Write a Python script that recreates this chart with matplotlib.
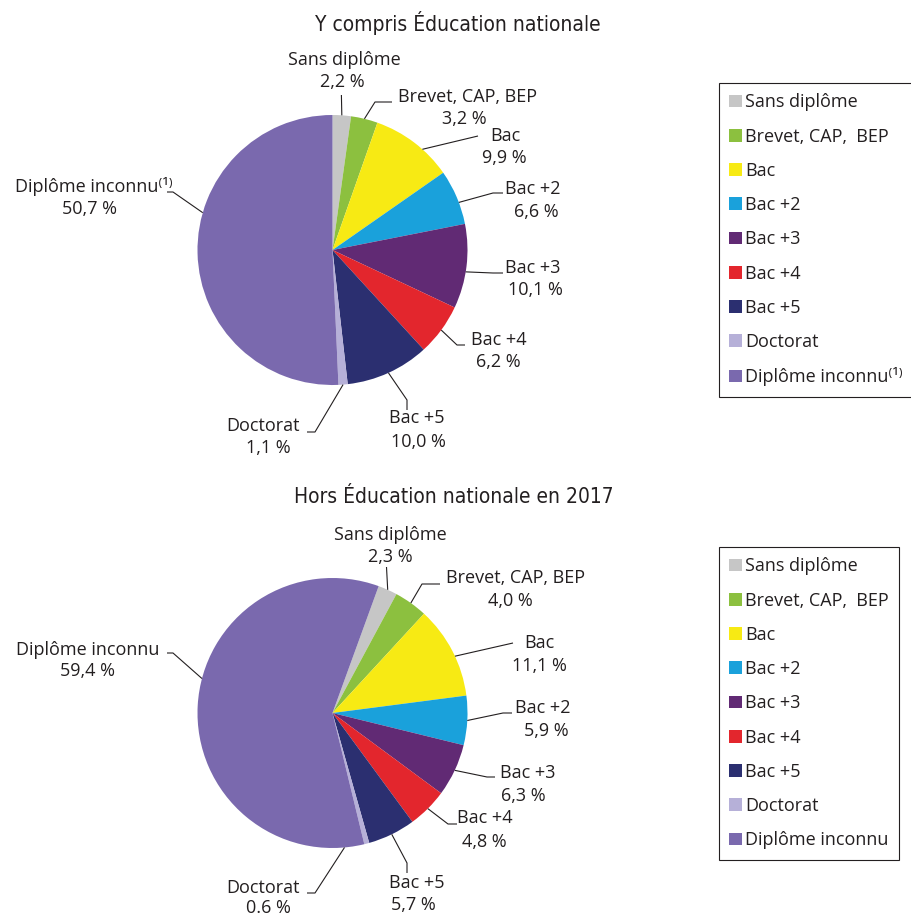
import matplotlib
matplotlib.use("Agg")
import matplotlib.pyplot as plt
import numpy as np

W, H = 911, 917

# ---------------- data ----------------
categories = ["Sans diplôme", "Brevet, CAP, BEP", "Bac", "Bac +2", "Bac +3",
              "Bac +4", "Bac +5", "Doctorat", "Diplôme inconnu"]
legend_labels_top = ["Sans diplôme", "Brevet, CAP,  BEP", "Bac", "Bac +2", "Bac +3",
                     "Bac +4", "Bac +5", "Doctorat", "Diplôme inconnu⁽¹⁾"]
legend_labels_bottom = ["Sans diplôme", "Brevet, CAP,  BEP", "Bac", "Bac +2", "Bac +3",
                        "Bac +4", "Bac +5", "Doctorat", "Diplôme inconnu"]
values_top = [2.2, 3.2, 9.9, 6.6, 10.1, 6.2, 10.0, 1.1, 50.7]
values_bottom = [2.3, 4.0, 11.1, 5.9, 6.3, 4.8, 5.7, 0.6, 59.4]
pct_labels_top = ["2,2 %", "3,2 %", "9,9 %", "6,6 %", "10,1 %", "6,2 %", "10,0 %", "1,1 %", "50,7 %"]
pct_labels_bottom = ["2,3 %", "4,0 %", "11,1 %", "5,9 %", "6,3 %", "4,8 %", "5,7 %", "0.6 %", "59,4 %"]
name_labels_top = categories[:-1] + ["Diplôme inconnu⁽¹⁾"]
name_labels_bottom = categories
titles = ["Y compris Éducation nationale", "Hors Éducation nationale en 2017"]

colors = ["#c6c6c6", "#8cc03f", "#f7ea14", "#1aa1db", "#612a74",
          "#e3262d", "#2b2f70", "#b6b0d8", "#7a69ae"]

# ---------------- layout (pixel coords, y from top) ----------------
TXT = "#231f20"
FONT = ["Open Sans", "DejaVu Sans"]
FS = 13

pies = [
    dict(center=(332.5, 250), radius=135, startangle=90,
         values=values_top, names=name_labels_top, pcts=pct_labels_top,
         title_pos=(458, 23), legend_labels=legend_labels_top, legend_pos=(719, 83),
         text_pos=[((344, 60), (342, 82)), ((467, 97), (464, 119)), ((505, 136), (504, 158)),
                   ((533, 189), (536, 212)), ((533, 268), (535, 290)), ((499, 340), (498, 362)),
                   ((417, 418), (418, 442)), ((263, 426), (268, 448)), ((94, 187), (90, 209))],
         leaders=[[(341.4, 95)], [(392, 102), (375, 102)], [(478, 136)],
                  [(503, 193), (493, 193)], [(503, 273), (493, 273)], [(465, 345), (457, 345)],
                  [(407, 410), (407, 400)], [(307, 432), (315, 432)], [(167, 192), (173, 192)]],
         offsets=[0, 0, -4.5, -2.4, -2.3, 0, 0, 0, -17.3]),
    dict(center=(332.5, 713), radius=135, startangle=70,
         values=values_bottom, names=name_labels_bottom, pcts=pct_labels_bottom,
         title_pos=(454, 497), legend_labels=legend_labels_bottom, legend_pos=(719, 547),
         text_pos=[((390, 535), (390, 557)), ((515, 578), (510, 601)), ((539, 643), (539, 666)),
                   ((543, 708), (546, 731)), ((528, 773), (523, 796)), ((485, 818), (484, 842)),
                   ((417, 883), (413, 905)), ((263, 888), (268, 908)), ((88, 650), (88, 671))],
         leaders=[[(386.5, 567)], [(440, 584), (422, 584)], [(513, 643)],
                  [(512, 713), (503, 713)], [(495, 777), (487, 777)], [(457, 824), (448, 824)],
                  [(407, 873), (407, 863)], [(307, 893), (315, 893)], [(167, 653), (173, 653)]],
         offsets=[0, 0, -2.5, 0, 0, 0, 0, -9.6, -11.6]),
]

fig = plt.figure(figsize=(W / 100, H / 100), dpi=100)
ax = fig.add_axes([0, 0, 1, 1])

legends = []
for k, p in enumerate(pies):
    cx, cy = p["center"]
    cY = H - cy
    wedges, _ = ax.pie(p["values"], colors=colors, startangle=p["startangle"],
                       counterclock=False, center=(cx, cY), radius=p["radius"],
                       wedgeprops=dict(linewidth=0))
    # title
    ax.text(p["title_pos"][0], H - p["title_pos"][1], titles[k],
            ha="center", va="center", fontsize=15, color=TXT,
            family="DejaVu Sans", fontstretch="condensed")
    # labels & leader lines
    for i, w in enumerate(wedges):
        (x1, y1), (x2, y2) = p["text_pos"][i]
        ax.text(x1, H - y1, p["names"][i], ha="center", va="center",
                fontsize=FS, color=TXT, family=FONT)
        ax.text(x2, H - y2, p["pcts"][i], ha="center", va="center",
                fontsize=FS, color=TXT, family=FONT)
        ang = np.deg2rad((w.theta1 + w.theta2) / 2 + p["offsets"][i])
        ex = cx + p["radius"] * np.cos(ang)
        ey = cY + p["radius"] * np.sin(ang)
        pts = [(x, H - y) for x, y in p["leaders"][i]] + [(ex, ey)]
        xs, ys = zip(*pts)
        ax.plot(xs, ys, color=TXT, lw=0.8, solid_capstyle="butt")
    lx, ly = p["legend_pos"]
    leg = ax.legend(wedges, p["legend_labels"], loc="upper left",
                    bbox_to_anchor=(lx, H - ly), bbox_transform=ax.transData,
                    frameon=True, fancybox=False, edgecolor=TXT, framealpha=1,
                    prop=dict(family=FONT, size=FS),
                    handlelength=0.72, handleheight=0.72, handletextpad=0.15,
                    labelspacing=0.90, borderpad=0.57, borderaxespad=0)
    leg.get_frame().set_linewidth(0.8)
    for t in leg.get_texts():
        t.set_color(TXT)
    legends.append(leg)

for leg in legends[:-1]:
    ax.add_artist(leg)

ax.set_xlim(0, W)
ax.set_ylim(0, H)
ax.set_aspect("auto")
ax.axis("off")

fig.savefig("out.png", dpi=100)
